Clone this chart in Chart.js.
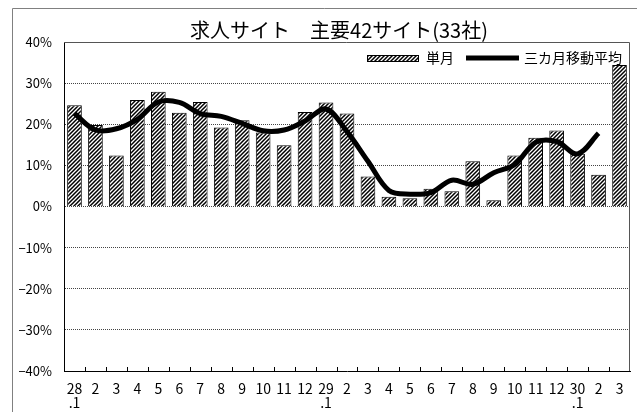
<!DOCTYPE html>
<html lang="ja">
<head>
<meta charset="utf-8">
<title>求人サイト 主要42サイト(33社)</title>
<script src="https://cdn.jsdelivr.net/npm/chart.js@4.4.1/dist/chart.umd.min.js"></script>
<style>
  html, body { margin: 0; padding: 0; background: #fff; }
  #wrap { width: 637px; height: 412px; overflow: hidden; }
</style>
</head>
<body>
<div id="wrap"><canvas id="jobChart" width="637" height="412"></canvas></div>
<script>
// 月（平成28年1月〜30年3月）
var months = [
    ['28', '.1'], '2', '3', '4', '5', '6', '7', '8', '9', '10', '11', '12',
    ['29', '.1'], '2', '3', '4', '5', '6', '7', '8', '9', '10', '11', '12',
    ['30', '.1'], '2', '3'
];
// 単月（前年比, %）
var monthly = [
    24.6, 19.8, 12.4, 25.9, 27.9, 22.8, 25.4, 19.2, 21.0, 18.0, 14.9, 23.0,
    25.3, 22.6, 7.3, 2.4, 2.0, 4.3, 3.7, 11.0, 1.5, 12.4, 16.7, 18.5,
    12.8, 7.7, 34.4
];
// 三カ月移動平均（%）
var movingAvg = [
    22.6, 18.6, 18.9, 21.2, 25.4, 25.3, 22.6, 21.9, 20.2, 18.4, 18.6, 20.8,
    23.7, 18.2, 11.0, 3.9, 3.0, 3.4, 6.4, 5.4, 8.2, 10.2, 15.6, 15.8,
    12.8, 17.8, null
];
var yTickValues = [-40, -30, -20, -10, 0, 10, 20, 30, 40];
var chartTitle = '求人サイト\u3000主要42サイト(33社)';

var FONT = "'Noto Sans CJK JP', 'Noto Sans', sans-serif";
var canvas = document.getElementById('jobChart');
var mainCtx = canvas.getContext('2d');

// 斜線パターン
function makeHatch() {
    var c = document.createElement('canvas');
    c.width = 4; c.height = 4;
    var g = c.getContext('2d');
    g.fillStyle = '#fff';
    g.fillRect(0, 0, 4, 4);
    g.strokeStyle = '#000';
    g.lineWidth = 1.5;
    g.beginPath();
    g.moveTo(0, 4); g.lineTo(4, 0);
    g.moveTo(-1, 1); g.lineTo(1, -1);
    g.moveTo(3, 5); g.lineTo(5, 3);
    g.stroke();
    return mainCtx.createPattern(c, 'repeat');
}
var hatch = makeHatch();

// 外枠・タイトル・プロット枠・目盛り・凡例
var framePlugin = {
    id: 'frame',
    beforeDraw: function(chart) {
        var ctx = chart.ctx;
        ctx.save();
        ctx.strokeStyle = '#808080';
        ctx.lineWidth = 1;
        ctx.beginPath();
        ctx.moveTo(12.5, chart.height);
        ctx.lineTo(12.5, 8.5);
        ctx.lineTo(chart.width, 8.5);
        ctx.stroke();

        // タイトル
        ctx.font = '20px ' + FONT;
        ctx.fillStyle = '#000';
        ctx.textAlign = 'center';
        ctx.textBaseline = 'middle';
        ctx.fillText(chartTitle, 339, 30);
        ctx.restore();
    },
    afterDraw: function(chart) {
        var ctx = chart.ctx;
        var a = chart.chartArea;
        var xs = chart.scales.x;
        ctx.save();
        ctx.lineWidth = 1;
        ctx.strokeStyle = '#555';
        ctx.beginPath();
        ctx.moveTo(a.left, a.top + 0.5);
        ctx.lineTo(a.right - 0.5, a.top + 0.5);
        ctx.lineTo(a.right - 0.5, a.bottom);
        ctx.stroke();

        // x軸の内向き目盛り
        ctx.strokeStyle = '#000';
        var w = xs.getPixelForValue(1) - xs.getPixelForValue(0);
        ctx.beginPath();
        for (var i = 1; i < months.length; i++) {
            var x = Math.round(xs.getPixelForValue(i) - w / 2) + 0.5;
            ctx.moveTo(x, a.bottom);
            ctx.lineTo(x, a.bottom - 4);
        }
        ctx.stroke();

        // 凡例（プロット内右上）
        var ds = chart.data.datasets;
        ctx.font = '14px ' + FONT;
        ctx.fillStyle = '#000';
        ctx.textBaseline = 'middle';
        ctx.textAlign = 'left';
        var y = a.top + 16;
        var t1 = ctx.measureText(ds[0].label).width;
        var t2 = ctx.measureText(ds[1].label).width;
        var x2 = a.right - 8 - t2;
        var lineEnd = x2 - 5;
        var lineStart = lineEnd - 53;
        var x1 = lineStart - 12 - t1;
        var boxEnd = x1 - 7;
        var boxStart = boxEnd - 52;
        ctx.fillStyle = ds[0].backgroundColor;
        ctx.fillRect(boxStart, y - 3, 52, 7);
        ctx.strokeStyle = ds[0].borderColor;
        ctx.strokeRect(boxStart + 0.5, y - 3 + 0.5, 51, 6);
        ctx.fillStyle = '#000';
        ctx.fillText(ds[0].label, x1, y);
        ctx.strokeStyle = ds[1].borderColor;
        ctx.lineWidth = ds[1].borderWidth;
        ctx.beginPath();
        ctx.moveTo(lineStart, y);
        ctx.lineTo(lineEnd, y);
        ctx.stroke();
        ctx.fillText(ds[1].label, x2, y);
        ctx.restore();
    }
};

new Chart(mainCtx, {
    type: 'bar',
    data: {
        labels: months,
        datasets: [{
            type: 'bar',
            label: '単月',
            data: monthly,
            backgroundColor: hatch,
            borderColor: '#000',
            borderWidth: 1,
            barPercentage: 0.7,
            categoryPercentage: 1.0,
            order: 1
        }, {
            type: 'line',
            label: '三カ月移動平均',
            data: movingAvg,
            borderColor: '#000',
            backgroundColor: '#000',
            borderWidth: 5,
            pointRadius: 0,
            tension: 0.35,
            fill: false,
            order: 0
        }]
    },
    options: {
        responsive: false,
        animation: false,
        layout: { padding: { left: 12, right: 7, top: 42, bottom: 0 } },
        plugins: {
            title: { display: false },
            legend: { display: false },
            tooltip: { enabled: false }
        },
        scales: {
            x: {
                grid: { display: false, drawTicks: false },
                border: { display: true, color: '#000', width: 1 },
                ticks: {
                    color: '#000',
                    font: { family: FONT, size: 14, lineHeight: 1.05 },
                    padding: 10,
                    autoSkip: false,
                    maxRotation: 0
                },
                afterFit: function(scale) { scale.height = 41; }
            },
            y: {
                min: -40,
                max: 40,
                afterBuildTicks: function(axis) {
                    axis.ticks = yTickValues.map(function(v) { return { value: v }; });
                },
                grid: {
                    drawTicks: false,
                    lineWidth: 1,
                    color: function(c) {
                        return (c.tick && (c.tick.value === 40 || c.tick.value === -40)) ? 'rgba(0,0,0,0)' : '#444';
                    }
                },
                border: { display: true, color: '#000', width: 1, dash: [1, 1] },
                ticks: {
                    color: '#000',
                    font: { family: FONT, size: 13 },
                    padding: 12,
                    callback: function(v) {
                        return (v < 0 ? '\u2212' + Math.abs(v) : v) + '%';
                    }
                },
                afterFit: function(scale) { scale.width = 52; }
            }
        }
    },
    plugins: [framePlugin]
});
</script>
</body>
</html>
